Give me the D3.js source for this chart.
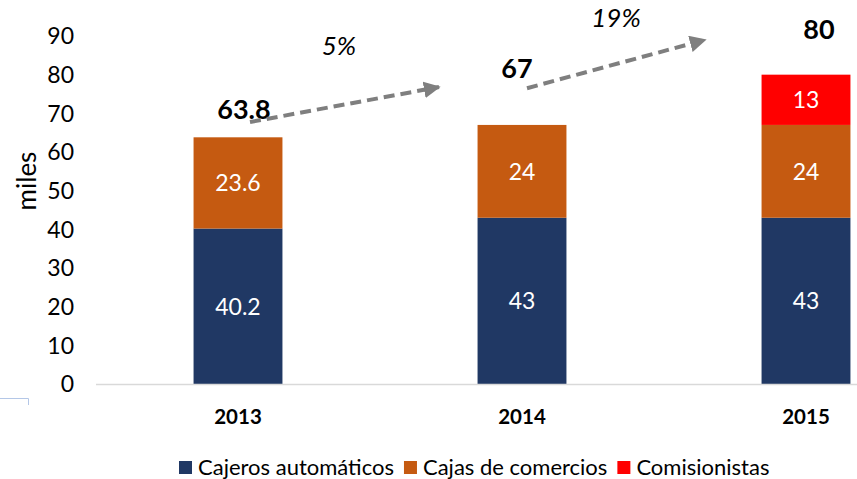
<!DOCTYPE html>
<html>
<head>
<meta charset="utf-8">
<script src="https://cdn.jsdelivr.net/npm/d3@7"></script>
<style>
  body { margin: 0; background: #fff; }
  svg { display: block; font-family: Lato, "Open Sans", sans-serif; }
</style>
</head>
<body>
<div id="chart"></div>
<script>
// 1: DATA
const years = ["2013", "2014", "2015"];
const seriesNames = ["Cajeros automáticos", "Cajas de comercios", "Comisionistas"];
const cajeros = [40.2, 43, 43];
const cajas = [23.6, 24, 24];
const comisionistas = [0, 0, 13];
const totals = ["63.8", "67", "80"];
const growthLabels = ["5%", "19%"];
const yTicks = [0, 10, 20, 30, 40, 50, 60, 70, 80, 90];

const colors = ["#203864", "#C55A11", "#FF0000"];

// 2: GLOBALS
const W = 857, H = 479;
const margin = { top: 36, left: 96, bottom: 95 };

const svg = d3.select("#chart")
    .append("svg")
    .attr("width", W)
    .attr("height", H);

// 3: SCALES
const xScale = d3.scaleBand()
    .domain(years)
    .range([margin.left, margin.left + 3 * 284])
    .paddingInner(0.687)
    .paddingOuter(0.3435);

const yScale = d3.scaleLinear()
    .domain([0, 90])
    .range([H - margin.bottom, margin.top]);

// stack the series
const rows = years.map((y, i) => ({
    year: y,
    [seriesNames[0]]: cajeros[i],
    [seriesNames[1]]: cajas[i],
    [seriesNames[2]]: comisionistas[i]
}));
const stacked = d3.stack().keys(seriesNames)(rows);

// 4: BARS
const layers = svg.selectAll(".layer")
    .data(stacked)
    .enter()
    .append("g")
    .attr("class", "layer")
    .attr("fill", (d, i) => colors[i]);

layers.selectAll("rect")
    .data(d => d.filter(p => p[1] - p[0] > 0))
    .enter()
    .append("rect")
    .attr("x", d => xScale(d.data.year))
    .attr("y", d => yScale(d[1]))
    .attr("width", xScale.bandwidth())
    .attr("height", d => yScale(d[0]) - yScale(d[1]));

// value labels inside bars
layers.selectAll("text")
    .data(d => d.filter(p => p[1] - p[0] > 0))
    .enter()
    .append("text")
    .attr("x", d => xScale(d.data.year) + xScale.bandwidth() / 2)
    .attr("y", d => (yScale(d[0]) + yScale(d[1])) / 2)
    .attr("dy", "0.36em")
    .attr("text-anchor", "middle")
    .attr("fill", "#fff")
    .style("font-size", "23px")
    .text(d => d3.format("~")(+(d[1] - d[0]).toFixed(1)));

// 5: AXES
svg.append("line")
    .attr("x1", margin.left)
    .attr("x2", W)
    .attr("y1", yScale(0) + 0.5)
    .attr("y2", yScale(0) + 0.5)
    .attr("stroke", "#d9d9d9")
    .attr("stroke-width", 1.5);

svg.selectAll(".ytick")
    .data(yTicks)
    .enter()
    .append("text")
    .attr("class", "ytick")
    .attr("x", 74)
    .attr("y", d => yScale(d))
    .attr("dy", "0.36em")
    .attr("text-anchor", "end")
    .attr("fill", "#000")
    .style("font-size", "23px")
    .text(d => d);

svg.selectAll(".xtick")
    .data(years)
    .enter()
    .append("text")
    .attr("class", "xtick")
    .attr("x", d => xScale(d) + xScale.bandwidth() / 2)
    .attr("y", 424)
    .attr("text-anchor", "middle")
    .style("font-size", "20.5px")
    .style("font-weight", "bold")
    .text(d => d);

svg.append("text")
    .attr("transform", `translate(36,${yScale(52.5)}) rotate(-90)`)
    .attr("text-anchor", "middle")
    .style("font-size", "26px")
    .text("miles");

// 6: TOTALS AND GROWTH ARROWS
// label anchors: [x offset from band centre, y in data units]
const totalPos = [[6, 68.5], [-5, 79.1], [13, 89.2]];
const center = y => xScale(y) + xScale.bandwidth() / 2;

svg.selectAll(".total")
    .data(totals)
    .enter()
    .append("text")
    .attr("class", "total")
    .attr("x", (d, i) => center(years[i]) + totalPos[i][0])
    .attr("y", (d, i) => yScale(totalPos[i][1]))
    .attr("text-anchor", "middle")
    .style("font-size", "27px")
    .style("font-weight", "bold")
    .text(d => d);

svg.append("defs").append("marker")
    .attr("id", "head")
    .attr("viewBox", "0 0 10 10")
    .attr("refX", 9)
    .attr("refY", 5)
    .attr("markerWidth", 4.2)
    .attr("markerHeight", 4.2)
    .attr("orient", "auto")
    .append("path")
    .attr("d", "M0,0 L10,5 L0,10 Z")
    .attr("fill", "#7f7f7f");

// [start dx, start y, end dx, end y]; dx relative to the bar centres of the pair
const arrowPos = [[12, 67.75, -83, 76.8], [5, 76.5, -101, 89.0]];
const labelPos = [[101, 85.0], [94, 92.2]];

growthLabels.forEach((g, i) => {
    const a = arrowPos[i];
    const x1 = center(years[i]) + a[0];
    const x2 = center(years[i + 1]) + a[2];
    svg.append("line")
        .attr("x1", x1)
        .attr("y1", yScale(a[1]))
        .attr("x2", x2)
        .attr("y2", yScale(a[3]))
        .attr("stroke", "#7f7f7f")
        .attr("stroke-width", 4)
        .attr("stroke-dasharray", "11,6")
        .attr("marker-end", "url(#head)");

    svg.append("text")
        .attr("x", center(years[i]) + labelPos[i][0])
        .attr("y", yScale(labelPos[i][1]))
        .attr("text-anchor", "middle")
        .style("font-size", "26px")
        .style("font-style", "italic")
        .text(g);
});

// 7: LEGEND
const legend = svg.append("g").attr("transform", "translate(0,461)");
let lx = 179;
seriesNames.forEach((name, i) => {
    legend.append("rect")
        .attr("x", lx)
        .attr("y", 0)
        .attr("width", 13)
        .attr("height", 13)
        .attr("fill", colors[i]);
    const t = legend.append("text")
        .attr("x", lx + 19)
        .attr("y", 14)
        .style("font-size", "22px")
        .text(name);
    lx += 19 + t.node().getComputedTextLength() + 10;
});

// faint frame fragment at the bottom left
svg.append("path")
    .attr("d", "M0,398.5 H28.5 V405")
    .attr("fill", "none")
    .attr("stroke", "#b4c7e7")
    .attr("stroke-width", 1);
</script>
</body>
</html>
